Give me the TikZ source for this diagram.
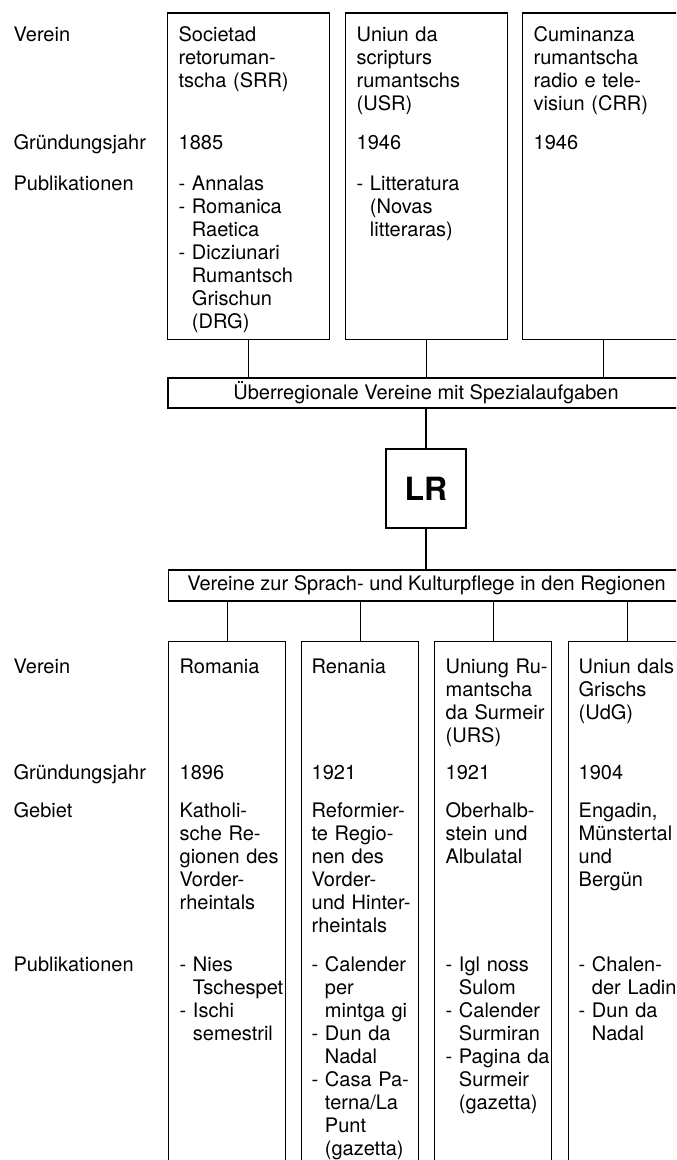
\documentclass[tikz,border=0pt]{standalone}
\usepackage{fontspec}
\setmainfont{TeX Gyre Heros}
\newcommand{\pubind}{\hphantom{- }}

\begin{document}
\begin{tikzpicture}[x=0.5pt, y=-0.5pt, line width=0.65pt]
    \tikzstyle{topbox}=[draw=black, minimum width=81pt, minimum height=163pt,
      anchor=north west, inner sep=0pt]
    \tikzstyle{lowbox}=[draw=black, minimum width=58.5pt, minimum height=265pt,
      anchor=north west, inner sep=0pt]
    \tikzstyle{banner}=[draw=black, minimum width=258pt, minimum height=15pt,
      inner sep=0pt, font=\fontsize{10}{11.5}\selectfont]
    \tikzstyle{txt}=[anchor=base west, align=left, text width=75pt, inner sep=0pt,
      font=\fontsize{10}{11.5}\selectfont]
    \useasboundingbox (0,0) rectangle (676,1160);
    \clip (0,0) rectangle (676,1160);
    % row labels
    \draw (13,42)  node[txt] (lverA) {Verein};
    \draw (13,150) node[txt] (ljahrA) {Gründungsjahr};
    \draw (13,191) node[txt] (lpubA) {Publikationen};
    \draw (13,673) node[txt] (lverB) {Verein};
    \draw (13,779) node[txt] (ljahrB) {Gründungsjahr};
    \draw (13,817) node[txt] (lgeb) {Gebiet};
    \draw (13,971) node[txt] (lpubB) {Publikationen};
    % ueberregionale Vereine
    \draw (167,12.5) node[topbox] (srr) {};
    \draw (345,12.5) node[topbox] (usr) {};
    \draw (522,12.5) node[topbox] (crr) {};
    \draw (178,42)  node[txt] (srrname) {Societad\\retoruman-\\tscha (SRR)};
    \draw (178,150) node[txt] (srrjahr) {1885};
    \draw (178,191) node[txt] (srrpub) {- Annalas\\- Romanica\\\pubind Raetica\\- Dicziunari\\\pubind Rumantsch\\\pubind Grischun\\\pubind (DRG)};
    \draw (356,42)  node[txt] (usrname) {Uniun da\\scripturs\\rumantschs\\(USR)};
    \draw (356,150) node[txt] (usrjahr) {1946};
    \draw (356,191) node[txt] (usrpub) {- Litteratura\\\pubind (Novas\\\pubind litteraras)};
    \draw (533,42)  node[txt] (crrname) {Cuminanza\\rumantscha\\radio e tele-\\visiun (CRR)};
    \draw (533,150) node[txt] (crrjahr) {1946};
    \draw (426,393) node[banner] (ueber) {Überregionale Vereine mit Spezialaufgaben};
    \draw (426,488.5) node[draw=black, minimum width=40pt, minimum height=39.5pt,
      font=\fontsize{16}{18}\selectfont\bfseries] (lr) {LR};
    \draw (426.5,585.5) node[banner, minimum height=15.5pt] (regio) {Vereine zur Sprach- und Kulturpflege in den Regionen};
    % regionale Vereine
    \draw (168,641) node[lowbox] (rom) {};
    \draw (301,641) node[lowbox] (ren) {};
    \draw (434,641) node[lowbox] (urs) {};
    \draw (568,641) node[lowbox] (udg) {};
    \draw (179,673) node[txt] (romname) {Romania};
    \draw (179,779) node[txt] (romjahr) {1896};
    \draw (179,817) node[txt] (romgeb) {Katholi-\\sche Re-\\gionen des\\Vorder-\\rheintals};
    \draw (179,971) node[txt] (rompub) {- Nies\\\pubind Tschespet\\- Ischi\\\pubind semestril};
    \draw (311,673) node[txt] (renname) {Renania};
    \draw (311,779) node[txt] (renjahr) {1921};
    \draw (311,817) node[txt] (rengeb) {Reformier-\\te Regio-\\nen des\\Vorder-\\und Hinter-\\rheintals};
    \draw (311,971) node[txt] (renpub) {- Calender\\\pubind per\\\pubind mintga gi\\- Dun da\\\pubind Nadal\\- Casa Pa-\\\pubind terna/La\\\pubind Punt\\\pubind (gazetta)};
    \draw (445,673) node[txt] (ursname) {Uniung Ru-\\mantscha\\da Surmeir\\(URS)};
    \draw (445,779) node[txt] (ursjahr) {1921};
    \draw (445,817) node[txt] (ursgeb) {Oberhalb-\\stein und\\Albulatal};
    \draw (445,971) node[txt] (urspub) {- Igl noss\\\pubind Sulom\\- Calender\\\pubind Surmiran\\- Pagina da\\\pubind Surmeir\\\pubind (gazetta)};
    \draw (578,673) node[txt] (udgname) {Uniun dals\\Grischs\\(UdG)};
    \draw (578,779) node[txt] (udgjahr) {1904};
    \draw (578,817) node[txt] (udggeb) {Engadin,\\Münstertal\\und\\Bergün};
    \draw (578,971) node[txt] (udgpub) {- Chalen-\\\pubind der Ladin\\- Dun da\\\pubind Nadal};
    % connectors
    \draw (srr.south) -- (srr.south |- ueber.north);
    \draw (usr.south) -- (usr.south |- ueber.north);
    \draw (crr.south) -- (crr.south |- ueber.north);
    \draw (ueber.south) -- (lr.north);
    \draw (lr.south) -- (lr.south |- regio.north);
    \draw (rom.north |- regio.south) -- (rom.north);
    \draw (ren.north |- regio.south) -- (ren.north);
    \draw (urs.north |- regio.south) -- (urs.north);
    \draw (udg.north |- regio.south) -- (udg.north);
\end{tikzpicture}
\end{document}
